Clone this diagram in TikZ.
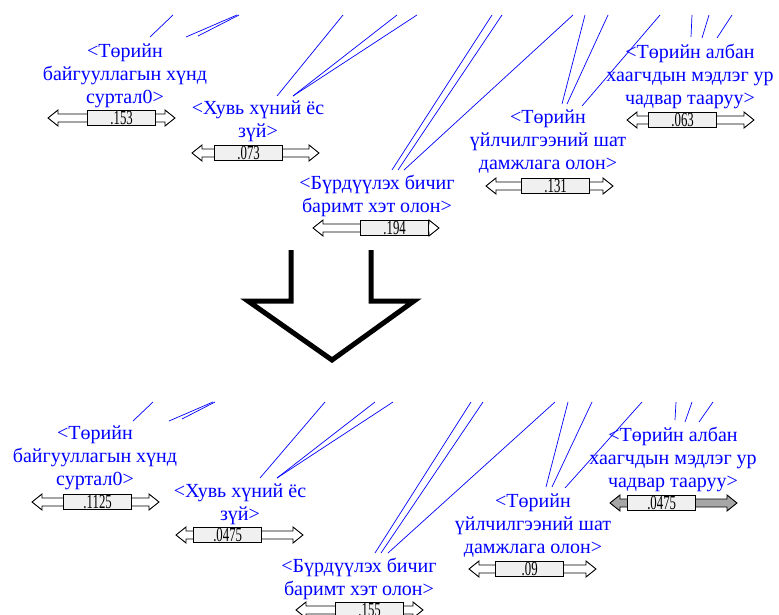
\documentclass[tikz,border=0pt]{standalone}
\usepackage{fontspec}
\setmainfont{Liberation Serif}
\newfontfamily\valfont[FakeStretch=0.64]{Liberation Serif}
\usetikzlibrary{positioning,calc}
\tikzset{
  lbl/.style={align=center,text=blue,font=\fontsize{20}{23}\selectfont,inner sep=0pt},
  valbox/.style={rectangle,draw,line width=1.3pt,fill=gray!12,minimum width=68pt,minimum height=15pt,
                 inner sep=0pt,font=\valfont\fontsize{20}{20}\selectfont},
  shaft/.style={draw,line width=0.9pt},
  wire/.style={blue,line width=0.7pt},
  bigarrow/.style={draw,line width=5pt,line join=miter},
}
% [fill]{name}{left tip}{box left}{right tip}{y}{value}
\newcommand{\slider}[7][white]{%
  \path[shaft,fill=#1] (#3,#6) -- ++(10,-8) -- ++(0,4) -- (#5-10,#6-4) -- ++(0,-4) -- (#5,#6)
    -- ++(-10,8) -- ++(0,-4) -- (#3+10,#6+4) -- ++(0,4) -- cycle;
  \node[valbox,anchor=west] (#2) at (#4,#6) {\smash{\raisebox{-6.5pt}{#7}}};}

\begin{document}
\begin{tikzpicture}[x=1pt,y=-1pt]
  \useasboundingbox (0,0) rectangle (779,615);
  % upper screen
  \node[lbl] (ta) at (125,76) {<Төрийн\\байгууллагын хүнд\\суртал0>};
  \node[lbl] (tb) at (258,121) {<Хувь хүний ёс\\зүй>};
  \node[lbl] (tc) at (377,196) {<Бүрдүүлэх бичиг\\баримт хэт олон>};
  \node[lbl] (td) at (548,142) {<Төрийн\\үйлчилгээний шат\\дамжлага олон>};
  \node[lbl] (te) at (690,77) {<Төрийн албан\\хаагчдын мэдлэг ур\\чадвар тааруу>};
  \slider{va}{48}{87}{175}{118}{.153}
  \slider{vb}{192}{214}{319}{153}{.073}
  \slider{vc}{313}{360}{439}{228}{.194}
  \slider{vd}{486}{521}{613}{186}{.131}
  \slider{ve}{627}{648}{754}{120}{.063}
  \foreach \xa/\ya/\xb/\yb [count=\i] in {150/37/173/15, 186/37/237/15, 198/36/239/15,
      277/96/343/15, 293/96/397/15, 293/96/417/15, 392/170/492/15, 398/170/502/15, 404/170/573/15,
      562/104/585/15, 567/104/608/15, 582/106/660/15, 691/37/692/15, 702/38/709/15, 717/38/732/15}{
    \coordinate (ua\i) at (\xa,\ya); \coordinate (ub\i) at (\xb,\yb);
    \draw[wire] (ua\i) -- (ub\i);}
  % arrow between the two screens
  \coordinate (ar1) at (291,250); \coordinate (ar2) at (371,250);
  \draw[bigarrow] (ar1) -- (291,301) -- (248,301) -- (332,360) -- (414,301) -- (371,301) -- (ar2);
  % lower screen
  \node[lbl] (la) at (95,458) {<Төрийн\\байгууллагын хүнд\\суртал0>};
  \node[lbl] (lb) at (240,504) {<Хувь хүний ёс\\зүй>};
  \node[lbl] (lc) at (359,579) {<Бүрдүүлэх бичиг\\баримт хэт олон>};
  \node[lbl] (ld) at (533,526) {<Төрийн\\үйлчилгээний шат\\дамжлага олон>};
  \node[lbl] (le) at (673,459) {<Төрийн албан\\хаагчдын мэдлэг ур\\чадвар тааруу>};
  \slider{wa}{32}{63}{159}{502}{.1125}
  \slider{wb}{176}{193}{303}{535}{.0475}
  \slider{wc}{296}{335}{423}{610}{.155}
  \slider{wd}{469}{495}{596}{569}{.09}
  \slider[gray!70]{we}{610}{627}{737}{503}{.0475}
  \foreach \xa/\ya/\xb/\yb [count=\i] in {133/421/153/402, 169/421/213/402, 182/419/215/402,
      260/478/325/402, 277/478/375/402, 277/478/393/402, 375/553/471/402, 381/553/483/402, 388/553/555/402,
      546/487/568/402, 552/487/592/402, 565/488/642/402, 675/420/676/402, 685/422/692/402, 699/422/713/402}{
    \coordinate (la\i) at (\xa,\ya); \coordinate (lb\i) at (\xb,\yb);
    \draw[wire] (la\i) -- (lb\i);}
\end{tikzpicture}
\end{document}
